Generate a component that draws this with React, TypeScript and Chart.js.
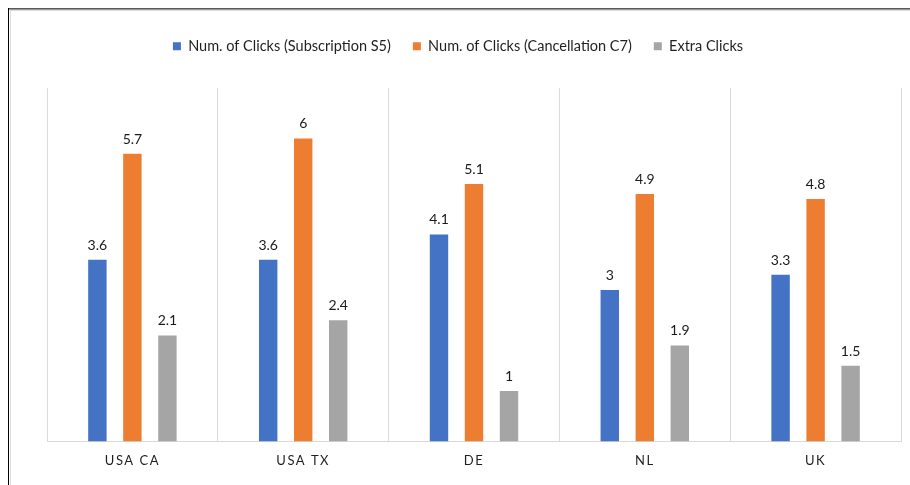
import React, { useEffect, useRef } from "react";
import { Chart, registerables } from "chart.js";

Chart.register(...registerables);

const categories = ["USA CA", "USA TX", "DE", "NL", "UK"];
const seriesNames = [
  "Num. of Clicks (Subscription S5)",
  "Num. of Clicks (Cancellation C7)",
  "Extra Clicks",
];
const subscriptionS5 = [3.6, 3.6, 4.1, 3, 3.3];
const cancellationC7 = [5.7, 6, 5.1, 4.9, 4.8];
const extraClicks = [2.1, 2.4, 1, 1.9, 1.5];
const seriesColors = ["#4472C4", "#ED7D31", "#A5A5A5"];
const yMin = 0;
const yMax = 7;

const FONT = "Lato, 'Open Sans', 'Liberation Sans', sans-serif";

export default function App() {
  const canvasRef = useRef<HTMLCanvasElement | null>(null);

  useEffect(() => {
    const canvas = canvasRef.current;
    if (!canvas) return;

    const frame = {
      id: "frame",
      beforeDraw(chart: any) {
        const ctx = chart.ctx;
        ctx.save();
        ctx.fillStyle = "#ffffff";
        ctx.fillRect(0, 0, chart.width, chart.height);
        ctx.fillStyle = "#5a5a5a";
        ctx.fillRect(8, 8, chart.width - 8, 1);
        ctx.fillStyle = "#9a9a9a";
        ctx.fillRect(9, 9, chart.width - 9, 1);
        ctx.fillStyle = "#dcdcdc";
        ctx.fillRect(10, 10, chart.width - 10, 1);
        ctx.fillStyle = "#000000";
        ctx.fillRect(8, 8, 1, chart.height - 8);
        ctx.fillStyle = "#dcdcdc";
        ctx.fillRect(10, 10, 1, chart.height - 10);
        ctx.restore();
      },
    };

    const legendSpacer = {
      id: "legendSpacer",
      beforeInit(chart: any) {
        const legend = chart.legend;
        if (!legend) return;
        const fit = legend.fit;
        legend.fit = function () {
          fit.call(legend);
          this.height += 24.5;
        };
      },
      afterLayout(chart: any) {
        const legend = chart.legend;
        if (!legend) return;
        legend.left -= 16;
        legend.right -= 16;
      },
    };

    const dataLabels = {
      id: "dataLabels",
      afterDatasetsDraw(chart: any) {
        const ctx = chart.ctx;
        ctx.save();
        ctx.font = `14px ${FONT}`;
        ctx.fillStyle = "#1a1a1a";
        ctx.textAlign = "center";
        ctx.textBaseline = "alphabetic";
        chart.data.datasets.forEach((ds: any, i: number) => {
          const meta = chart.getDatasetMeta(i);
          meta.data.forEach((el: any, j: number) => {
            ctx.fillText(String(ds.data[j]), el.x, el.y - 10);
          });
        });
        ctx.restore();
      },
    };

    const chart = new Chart(canvas, {
      type: "bar",
      data: {
        labels: categories,
        datasets: [
          { label: seriesNames[0], data: subscriptionS5, backgroundColor: seriesColors[0] },
          { label: seriesNames[1], data: cancellationC7, backgroundColor: seriesColors[1] },
          { label: seriesNames[2], data: extraClicks, backgroundColor: seriesColors[2] },
        ],
      },
      options: {
        responsive: false,
        animation: false,
        devicePixelRatio: 1,
        layout: { padding: { top: 17, left: 47, right: 9, bottom: 4 } },
        datasets: {
          bar: { categoryPercentage: 0.615, barPercentage: 0.526 },
        },
        plugins: {
          legend: {
            position: "top",
            align: "center",
            labels: {
              boxWidth: 8,
              boxHeight: 8,
              padding: 22,
              color: "#1f1f1f",
              font: { family: FONT, size: 14.5 },
            },
          },
          tooltip: { enabled: false },
        },
        scales: {
          x: {
            offset: true,
            grid: {
              display: true,
              offset: true,
              color: "#d9d9d9",
              lineWidth: 1,
              drawTicks: false,
            },
            border: { display: true, color: "#d9d9d9", width: 1 },
            ticks: {
              color: "#1f1f1f",
              padding: 12,
              font: { family: FONT, size: 13 },
            },
          },
          y: {
            display: false,
            min: yMin,
            max: yMax,
          },
        },
      },
      plugins: [frame, legendSpacer, dataLabels],
    } as any);

    const xScale: any = chart.scales.x;
    const origDrawLabels = xScale.drawLabels;
    xScale.drawLabels = function (area: any) {
      const ctx = chart.ctx as any;
      ctx.save();
      ctx.letterSpacing = "1.5px";
      origDrawLabels.call(this, area);
      ctx.restore();
    };
    chart.draw();

    return () => chart.destroy();
  }, []);

  return (
    <div style={{ position: "fixed", left: 0, top: 0, width: 910, height: 485 }}>
      <canvas ref={canvasRef} width={910} height={485} style={{ display: "block" }} />
    </div>
  );
}
